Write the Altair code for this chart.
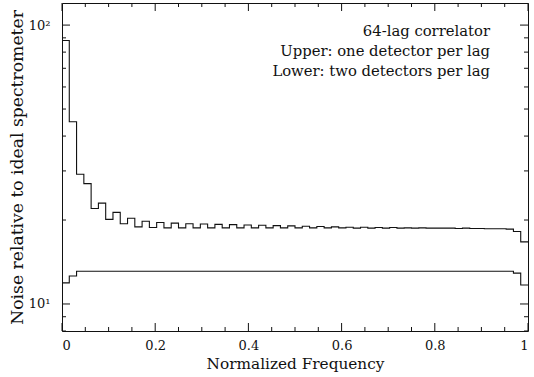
import altair as alt
import pandas as pd

# Upper curve: one detector per lag (64 frequency channels)
upper = [88.0, 45.0, 29.2, 27.0, 22.0, 23.0, 20.1, 21.3, 19.4, 20.3,
         18.9, 19.8, 18.8, 19.6, 18.75, 19.5, 18.75, 19.4, 18.75, 19.35,
         18.75, 19.3, 18.75, 19.25, 18.75, 19.2, 18.75, 19.15, 18.75, 19.1,
         18.75, 19.05, 18.75, 19.0, 18.75, 18.95, 18.75, 18.9, 18.75, 18.85,
         18.7, 18.85, 18.7, 18.8, 18.7, 18.8, 18.7, 18.75, 18.7, 18.75,
         18.7, 18.7, 18.7, 18.7, 18.65, 18.7, 18.65, 18.65, 18.6, 18.6,
         18.6, 18.55, 18.2, 16.7]
# Lower curve: two detectors per lag
lower = [11.9, 12.6] + [13.1] * 60 + [12.9, 11.7]

n_bins = 64
edges = [i / n_bins for i in range(n_bins + 1)]

x_major = [0, 0.2, 0.4, 0.6, 0.8, 1.0]
x_minor = [0.05, 0.1, 0.15, 0.25, 0.3, 0.35, 0.45, 0.5, 0.55,
           0.65, 0.7, 0.75, 0.85, 0.9, 0.95]
y_major = [10, 100]
y_minor = [8, 9, 20, 30, 40, 50, 60, 70, 80, 90]
notes = ["64-lag correlator", "Upper: one detector per lag", "Lower: two detectors per lag"]

rows = []
for name, vals in (("upper", upper), ("lower", lower)):
    for i, e in enumerate(edges):
        rows.append({"series": name, "freq": e, "noise": vals[min(i, n_bins - 1)]})
df = pd.DataFrame(rows)

FONT = "DejaVu Serif"
W, H = 466, 328

xs = alt.Scale(domain=[0, 1], nice=False, zero=False)
ys = alt.Scale(type="log", domain=[8, 120], nice=False)

x_axis = alt.Axis(title="Normalized Frequency", values=x_major,
                  labelExpr="datum.value == 0 ? '0' : datum.value == 1 ? '1' : format(datum.value, '.1f')",
                  ticks=False, domain=False, grid=False, labelPadding=8, titlePadding=4,
                  labelFont=FONT, titleFont=FONT, labelFontSize=13, titleFontSize=15.3,
                  labelColor="#111", titleColor="#111", titleFontWeight="normal")
y_axis = alt.Axis(title="Noise relative to ideal spectrometer", values=y_major,
                  labelExpr="datum.value == 100 ? '10²' : '10¹'",
                  ticks=False, domain=False, grid=False, labelPadding=12, titlePadding=2,
                  labelFont=FONT, titleFont=FONT, labelFontSize=13, titleFontSize=17.2,
                  labelColor="#111", titleColor="#111", titleFontWeight="normal")

def xenc():
    return alt.X("freq:Q", scale=xs, axis=x_axis)

def yenc():
    return alt.Y("noise:Q", scale=ys, axis=y_axis)

lines = alt.Chart(df).mark_line(interpolate="step-after", color="#111", strokeWidth=1.1).encode(
    x=xenc(), y=yenc(), detail="series:N")

def xticks(vals, length):
    d = pd.DataFrame({"freq": vals})
    bot = alt.Chart(d).mark_rule(color="#111", strokeWidth=1).encode(
        x=xenc(), y=alt.value(H), y2=alt.value(H - length))
    top = alt.Chart(d).mark_rule(color="#111", strokeWidth=1).encode(
        x=xenc(), y=alt.value(0), y2=alt.value(length))
    return [bot, top]

def yticks(vals, length):
    d = pd.DataFrame({"noise": vals})
    left = alt.Chart(d).mark_rule(color="#111", strokeWidth=1).encode(
        y=yenc(), x=alt.value(0), x2=alt.value(length))
    right = alt.Chart(d).mark_rule(color="#111", strokeWidth=1).encode(
        y=yenc(), x=alt.value(W), x2=alt.value(W - length))
    return [left, right]

tick_layers = xticks(x_major, 8) + xticks(x_minor, 4) + yticks(y_major, 8) + yticks(y_minor, 4)

text_layers = []
for txt, ypos in zip(notes, [29, 49, 69]):
    text_layers.append(
        alt.Chart(df).mark_text(text=txt, align="right", baseline="middle", font=FONT,
                                fontSize=14.8, color="#111").encode(
            x=alt.value(428), y=alt.value(ypos)
        ).transform_filter("datum.freq == 0 && datum.series == 'upper'"))

chart = alt.layer(lines, *tick_layers, *text_layers).properties(
    width=W, height=H,
    padding={"left": 62, "top": 3, "right": 6, "bottom": 46},
    autosize=alt.AutoSizeParams(type="none"),
    background="white",
).configure_view(stroke="#111", strokeWidth=1).configure_text(font=FONT)

chart.save("out.html", embed_options={"renderer": "svg", "actions": False})
